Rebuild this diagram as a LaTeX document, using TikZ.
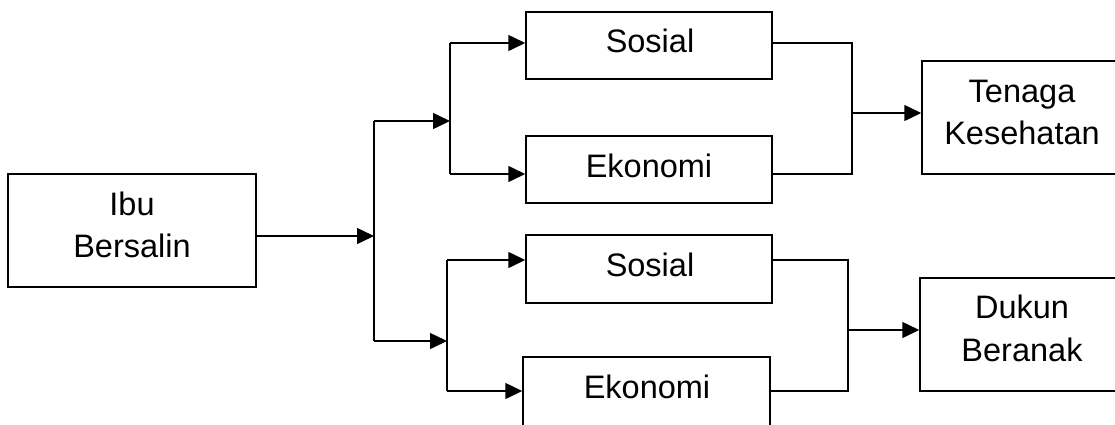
\documentclass[tikz,border=0pt]{standalone}
\usepackage{fontspec}
\setmainfont{Liberation Sans}
\usetikzlibrary{arrows.meta}
\begin{document}
\begin{tikzpicture}[x=1pt,y=-1pt,
  box/.style={draw,line width=1.5pt,inner sep=0pt,minimum width=#1},
  txt/.style={anchor=base,inner sep=0pt,font=\fontsize{32.5}{42}\selectfont},
  ln/.style={line width=1.5pt},
  arr/.style={line width=1.5pt,-{Triangle[length=17pt,width=16pt]}}]
\clip (0,0) rectangle (1115,424);
% boxes
\node[box=248pt,minimum height=113pt] (ibu) at (132,230.5) {};
\node[box=246pt,minimum height=67pt] (s1) at (649,45.5) {};
\node[box=246pt,minimum height=67pt] (e1) at (649,169.5) {};
\node[box=246pt,minimum height=68pt] (s2) at (649,269) {};
\node[box=247pt,minimum height=90pt] (e2) at (646.5,402) {};
\node[box=200pt,minimum height=113pt] (t) at (1022,117.5) {};
\node[box=202pt,minimum height=113pt] (d) at (1021,334.5) {};
% texts
\node[txt] (ibuA) at (132,215) {Ibu};
\node[txt] (ibuB) at (132,257) {Bersalin};
\node[txt] (s1t) at (650,52) {Sosial};
\node[txt] (e1t) at (649,177) {Ekonomi};
\node[txt] (s2t) at (650,276) {Sosial};
\node[txt] (e2t) at (647,398) {Ekonomi};
\node[txt] (tA) at (1022,102) {Tenaga};
\node[txt] (tB) at (1022,144) {Kesehatan};
\node[txt] (dA) at (1022,318) {Dukun};
\node[txt] (dB) at (1022,361) {Beranak};
% junction coordinates
\coordinate (j1) at (374,236);
\coordinate (j1t) at (374,121);
\coordinate (j1b) at (374,341);
\coordinate (j2) at (450,121);
\coordinate (j2t) at (450,43);
\coordinate (j2b) at (450,174);
\coordinate (j3) at (447,341);
\coordinate (j3t) at (447,260);
\coordinate (j3b) at (447,391);
\coordinate (r1t) at (852,43);
\coordinate (r1b) at (852,174);
\coordinate (r1) at (852,113);
\coordinate (r2t) at (848,260);
\coordinate (r2b) at (848,391);
\coordinate (r2) at (848,330);
% connectors
\draw[arr] (ibu.east |- j1) -- (j1);
\draw[ln] (j1t) -- (j1b);
\draw[arr] (j1t) -- (j2);
\draw[ln] (j2t) -- (j2b);
\draw[arr] (j2t) -- (s1.west |- j2t);
\draw[arr] (j2b) -- (e1.west |- j2b);
\draw[arr] (j1b) -- (j3);
\draw[ln] (j3t) -- (j3b);
\draw[arr] (j3t) -- (s2.west |- j3t);
\draw[arr] (j3b) -- (e2.west |- j3b);
\draw[ln] (s1.east |- r1t) -- (r1t) -- (r1b) -- (e1.east |- r1b);
\draw[arr] (r1) -- (t.west |- r1);
\draw[ln] (s2.east |- r2t) -- (r2t) -- (r2b) -- (e2.east |- r2b);
\draw[arr] (r2) -- (d.west |- r2);
\end{tikzpicture}
\end{document}
